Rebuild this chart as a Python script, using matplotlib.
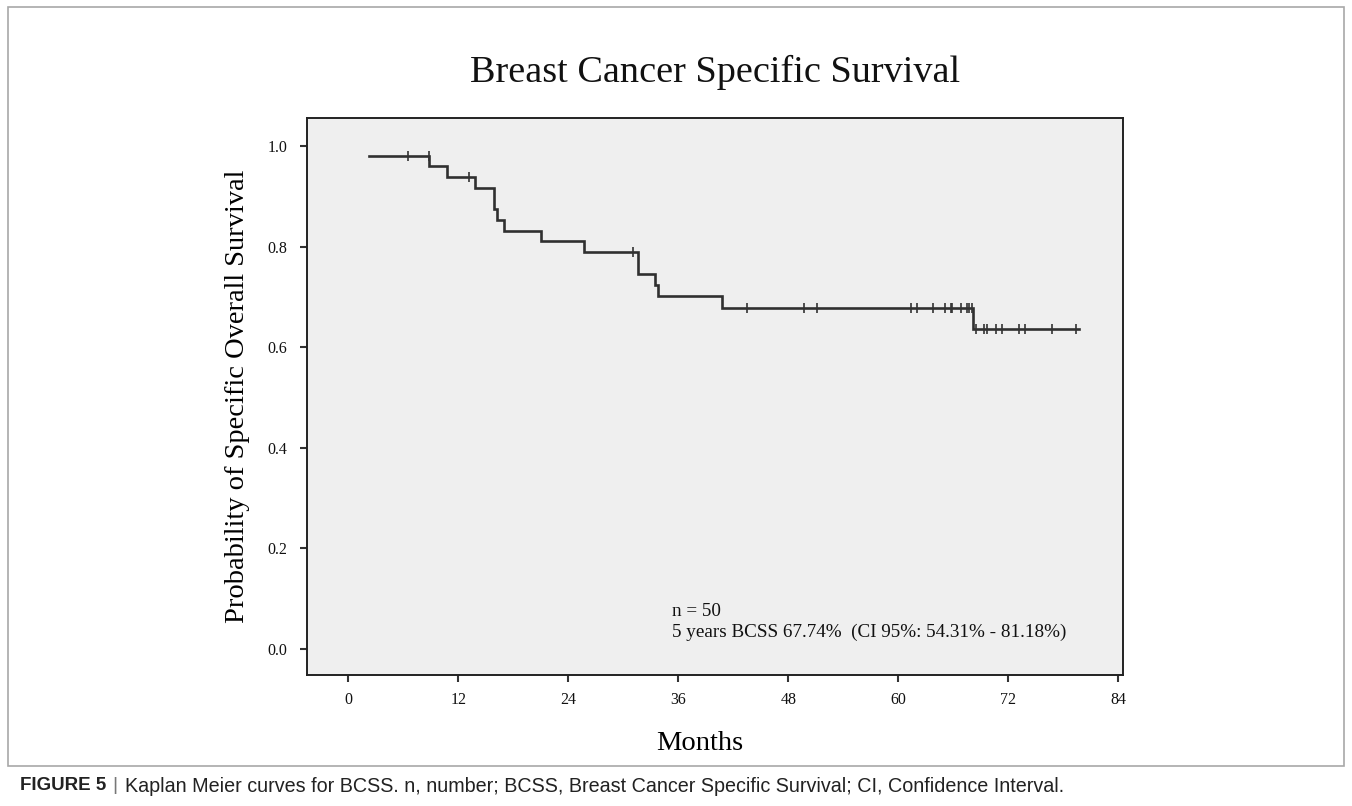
import numpy as np
import matplotlib
matplotlib.use("Agg")
import matplotlib.pyplot as plt
from matplotlib.patches import Rectangle

# Kaplan-Meier estimate: event times (months) and survival level after each event
event_months = [2.3, 8.8, 10.8, 13.8, 15.9, 16.2, 16.95, 21.05, 25.7, 31.56, 33.5, 33.74, 40.8, 68.1]
survival = [0.980, 0.960, 0.939, 0.917, 0.875, 0.853, 0.832, 0.811, 0.789, 0.746, 0.724, 0.702, 0.6774, 0.636]
last_followup = 79.7

# censored observations (months)
censored_months = [6.5, 8.76, 13.2, 31.05, 43.5, 49.7, 51.1, 61.4, 62.0, 63.8, 65.1, 65.7, 65.85,
                   66.8, 67.5, 67.75, 68.0, 68.5, 69.35, 69.7, 70.7, 71.3, 73.2, 73.8, 76.8, 79.4]

x_ticks = [0, 12, 24, 36, 48, 60, 72, 84]
y_ticks = [0.0, 0.2, 0.4, 0.6, 0.8, 1.0]

n_patients = 50
bcss_5y = 67.74
ci_low, ci_high = 54.31, 81.18

W, H = 1352, 806
fig = plt.figure(figsize=(W / 100, H / 100), dpi=100)
fig.patch.set_facecolor("white")

serif = ["Liberation Serif", "DejaVu Serif"]
sans = ["Liberation Sans", "DejaVu Sans"]

# outer figure frame
fig.add_artist(Rectangle((8 / W, 1 - 766 / H), (1344 - 8) / W, (766 - 7) / H,
                         transform=fig.transFigure, fill=False,
                         edgecolor="#a8a8a8", linewidth=1.2))

ax = fig.add_axes([307 / W, 1 - 675 / H, (1123 - 307) / W, (675 - 118) / H])
ax.set_facecolor("#efefef")

# step curve
xs = list(event_months) + [last_followup]
ys = list(survival) + [survival[-1]]
ax.step(xs, ys, where="post", color="#303030", linewidth=1.9, solid_joinstyle="miter")

# censor marks on the curve
ev = np.array(event_months)
sv = np.array(survival)
cm = np.array(censored_months)
idx = np.searchsorted(ev, cm, side="right") - 1
cy = np.where(idx >= 0, sv[np.clip(idx, 0, None)], 1.0)
ax.plot(cm, cy, linestyle="none", marker="|", markersize=7.5,
        markeredgewidth=1.2, color="#333333")

ax.set_xlim(-4.5, 84.5)
ax.set_ylim(-0.052, 1.056)
ax.set_xticks(x_ticks)
ax.set_xticklabels([str(t) for t in x_ticks], fontfamily=serif, fontsize=11.5)
ax.set_yticks(y_ticks)
ax.set_yticklabels([f"{t:.1f}" for t in y_ticks], fontfamily=serif, fontsize=11.5)
ax.tick_params(axis="x", pad=7)
ax.tick_params(axis="y", pad=9)
ax.tick_params(direction="out", length=5, width=1.5, color="#333333", labelcolor="#111111")
for s in ax.spines.values():
    s.set_linewidth(1.4)
    s.set_color("#222222")

ax.set_xlabel("Months", fontfamily=serif, fontsize=20.5)
ax.xaxis.label.set_va("center")
ax.xaxis.set_label_coords((700 - 307) / 816, (675 - 744) / 557)
ax.set_ylabel("Probability of Specific Overall Survival", fontfamily=serif, fontsize=20.5)
ax.yaxis.label.set_va("center")
ax.yaxis.set_label_coords((237 - 307) / 816, (675 - 396) / 557)

fig.text(715 / W, 1 - 72 / H, "Breast Cancer Specific Survival", fontfamily=serif,
         fontsize=27.5, ha="center", va="center", color="#111111")

ax.text(35.3, 0.074, f"n = {n_patients}", fontfamily=serif, fontsize=13.8, color="#111111",
        ha="left", va="center")
ax.text(35.3, 0.032,
        f"5 years BCSS {bcss_5y:.2f}%  (CI 95%: {ci_low:.2f}% - {ci_high:.2f}%)",
        fontfamily=serif, fontsize=13.8, color="#111111", ha="left", va="center")

# caption
cy_fig = 1 - 786 / H
fig.text(20 / W, cy_fig, "FIGURE 5", fontfamily=sans, fontweight="bold", fontsize=13.5,
         color="#222222", ha="left", va="center")
fig.text(112 / W, cy_fig, "|", fontfamily=sans, fontsize=14, color="#777777",
         ha="left", va="center")
fig.text(125 / W, cy_fig,
         "Kaplan Meier curves for BCSS. n, number; BCSS, Breast Cancer Specific Survival; CI, Confidence Interval.",
         fontfamily=sans, fontsize=14.2, color="#222222", ha="left", va="center")

fig.savefig("out.png", dpi=100, facecolor="white")
